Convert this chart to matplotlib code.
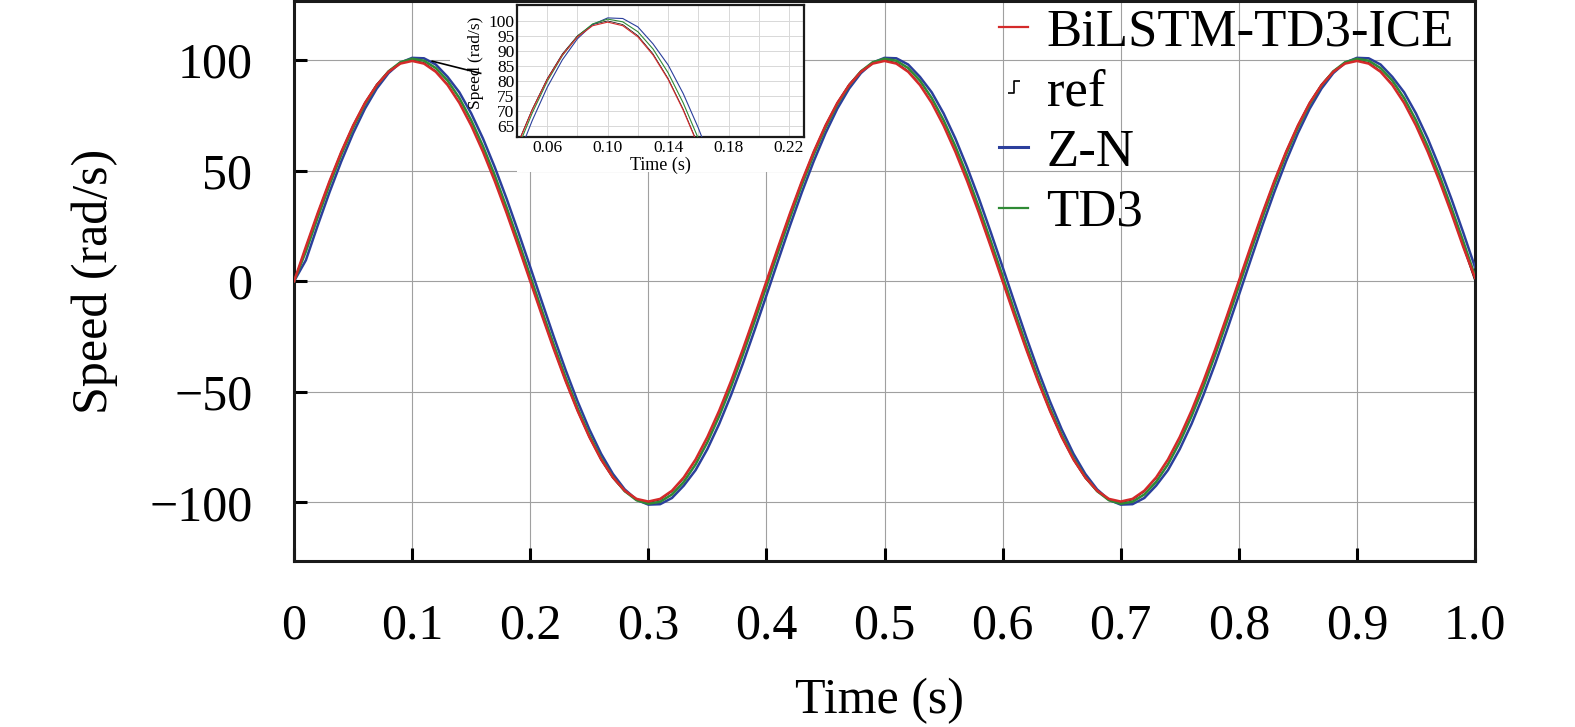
import numpy as np
import matplotlib
matplotlib.use("Agg")
import matplotlib.pyplot as plt
from matplotlib.lines import Line2D
from matplotlib.patches import Rectangle
from matplotlib.path import Path

plt.rcParams['font.family'] = ['Liberation Serif', 'DejaVu Serif']

# time base, 0.01 s steps
t = np.linspace(0, 1.0, 101)

ref = [0.0, 15.6, 30.9, 45.4, 58.8, 70.7, 80.9, 89.1, 95.1, 98.8,
       100.0, 98.8, 95.1, 89.1, 80.9, 70.7, 58.8, 45.4, 30.9, 15.6,
       0.0, -15.6, -30.9, -45.4, -58.8, -70.7, -80.9, -89.1, -95.1, -98.8,
       -100.0, -98.8, -95.1, -89.1, -80.9, -70.7, -58.8, -45.4, -30.9, -15.6,
       0.0, 15.6, 30.9, 45.4, 58.8, 70.7, 80.9, 89.1, 95.1, 98.8,
       100.0, 98.8, 95.1, 89.1, 80.9, 70.7, 58.8, 45.4, 30.9, 15.6,
       0.0, -15.6, -30.9, -45.4, -58.8, -70.7, -80.9, -89.1, -95.1, -98.8,
       -100.0, -98.8, -95.1, -89.1, -80.9, -70.7, -58.8, -45.4, -30.9, -15.6,
       0.0, 15.6, 30.9, 45.4, 58.8, 70.7, 80.9, 89.1, 95.1, 98.8,
       100.0, 98.8, 95.1, 89.1, 80.9, 70.7, 58.8, 45.4, 30.9, 15.6,
       0.0]

bilstm = [0.0, 15.6, 30.8, 45.2, 58.5, 70.4, 80.6, 88.7, 94.7, 98.4,
          99.6, 98.4, 94.7, 88.7, 80.6, 70.4, 58.5, 45.2, 30.8, 15.6,
          0.0, -15.6, -30.8, -45.2, -58.5, -70.4, -80.6, -88.7, -94.7, -98.4,
          -99.6, -98.4, -94.7, -88.7, -80.6, -70.4, -58.5, -45.2, -30.8, -15.6,
          0.0, 15.6, 30.8, 45.2, 58.5, 70.4, 80.6, 88.7, 94.7, 98.4,
          99.6, 98.4, 94.7, 88.7, 80.6, 70.4, 58.5, 45.2, 30.8, 15.6,
          0.0, -15.6, -30.8, -45.2, -58.5, -70.4, -80.6, -88.7, -94.7, -98.4,
          -99.6, -98.4, -94.7, -88.7, -80.6, -70.4, -58.5, -45.2, -30.8, -15.6,
          0.0, 15.6, 30.8, 45.2, 58.5, 70.4, 80.6, 88.7, 94.7, 98.4,
          99.6, 98.4, 94.7, 88.7, 80.6, 70.4, 58.5, 45.2, 30.8, 15.6,
          1.5]

zn = [0.0, 9.5, 25.2, 40.2, 54.2, 66.9, 78.0, 87.1, 94.1, 98.8,
      101.0, 100.8, 98.0, 92.4, 85.4, 75.9, 64.5, 51.5, 37.3, 22.1,
      6.4, -9.5, -25.2, -40.2, -54.2, -66.9, -78.0, -87.1, -94.1, -98.8,
      -101.0, -100.8, -98.0, -92.4, -85.4, -75.9, -64.5, -51.5, -37.3, -22.1,
      -6.4, 9.5, 25.2, 40.2, 54.2, 66.9, 78.0, 87.1, 94.1, 98.8,
      101.0, 100.8, 98.0, 92.4, 85.4, 75.9, 64.5, 51.5, 37.3, 22.1,
      6.4, -9.5, -25.2, -40.2, -54.2, -66.9, -78.0, -87.1, -94.1, -98.8,
      -101.0, -100.8, -98.0, -92.4, -85.4, -75.9, -64.5, -51.5, -37.3, -22.1,
      -6.4, 9.5, 25.2, 40.2, 54.2, 66.9, 78.0, 87.1, 94.1, 98.8,
      101.0, 100.8, 98.0, 92.4, 85.4, 75.9, 64.5, 51.5, 37.3, 22.1,
      6.4]

td3 = [0.0, 13.4, 28.8, 43.5, 57.2, 69.4, 80.0, 88.5, 94.9, 99.0,
       100.6, 99.7, 96.4, 90.7, 82.8, 72.8, 61.0, 47.8, 33.3, 18.1,
       2.4, -13.4, -28.8, -43.5, -57.2, -69.4, -80.0, -88.5, -94.9, -99.0,
       -100.6, -99.7, -96.4, -90.7, -82.8, -72.8, -61.0, -47.8, -33.3, -18.1,
       -2.4, 13.4, 28.8, 43.5, 57.2, 69.4, 80.0, 88.5, 94.9, 99.0,
       100.6, 99.7, 96.4, 90.7, 82.8, 72.8, 61.0, 47.8, 33.3, 18.1,
       2.4, -13.4, -28.8, -43.5, -57.2, -69.4, -80.0, -88.5, -94.9, -99.0,
       -100.6, -99.7, -96.4, -90.7, -82.8, -72.8, -61.0, -47.8, -33.3, -18.1,
       -2.4, 13.4, 28.8, 43.5, 57.2, 69.4, 80.0, 88.5, 94.9, 99.0,
       100.6, 99.7, 96.4, 90.7, 82.8, 72.8, 61.0, 47.8, 33.3, 18.1,
       2.4]

labels = ['BiLSTM-TD3-ICE', 'ref', 'Z-N', 'TD3']
c_red = '#d42a2a'
c_blue = '#2b3f9c'
c_green = '#2f8a35'

xticks = [0, 0.1, 0.2, 0.3, 0.4, 0.5, 0.6, 0.7, 0.8, 0.9, 1.0]
xticklabels = ['0', '0.1', '0.2', '0.3', '0.4', '0.5', '0.6', '0.7', '0.8', '0.9', '1.0']
yticks = [-100, -50, 0, 50, 100]
inset_xticks = [0.06, 0.10, 0.14, 0.18, 0.22]
inset_yticks = [65, 70, 75, 80, 85, 90, 95, 100]

fig = plt.figure(figsize=(15.75, 7.27), dpi=100)
ax = fig.add_axes([0.1867, 0.2283, 0.7498, 0.7697])

# ref sits under the controller curves
ax.plot(t, ref, color='black', lw=0.8, zorder=2)
ax.plot(t, zn, color=c_blue, lw=1.8, zorder=3)
ax.plot(t, td3, color=c_green, lw=1.8, zorder=3)
ax.plot(t, bilstm, color=c_red, lw=1.8, zorder=4)

ax.set_xlim(0, 1.0)
ax.set_ylim(-126.5, 126.5)
ax.set_xticks(xticks)
ax.set_xticklabels(xticklabels)
ax.set_yticks(yticks)
ax.grid(True, color='#a0a0a0', lw=0.8)
ax.set_axisbelow(True)
ax.tick_params(direction='in', length=9.5, width=2.2, labelsize=36, pad=30)
for s in ax.spines.values():
    s.set_linewidth(2.2)
    s.set_color('#1a1a1a')

ax.set_xlabel('Time (s)', fontsize=36)
ax.set_ylabel('Speed (rad/s)', fontsize=36)
ax.xaxis.set_label_coords(0.496, -0.209)
ax.yaxis.set_label_coords(-0.149, 0.5)

# white area behind the inset and its labels
ax.add_patch(Rectangle((0.132, 0.752), 0.301, 0.248, transform=ax.transAxes,
                       facecolor='white', edgecolor='none', zorder=1))
ax.add_patch(Rectangle((0.189, 0.695), 0.244, 0.305, transform=ax.transAxes,
                       facecolor='white', edgecolor='none', zorder=1))
# connector from the peak to the inset
ax.plot([0.117, 0.158], [99.5, 94.0], color='black', lw=1.2, zorder=5)

# legend
step_path = Path([(-1.0, -1.0), (0.0, -1.0), (0.0, 1.0), (1.0, 1.0)],
                 [Path.MOVETO, Path.LINETO, Path.LINETO, Path.LINETO])
handles = [Line2D([], [], color=c_red, lw=1.6),
           Line2D([], [], color='black', ls='none', marker=step_path,
                  markersize=9, markerfacecolor='none', markeredgewidth=1.2),
           Line2D([], [], color=c_blue, lw=2.2),
           Line2D([], [], color=c_green, lw=1.6)]
ax.legend(handles, labels, loc='upper right', frameon=False, fontsize=38,
          handlelength=0.55, handletextpad=0.35, labelspacing=0.23,
          borderaxespad=0.0, bbox_to_anchor=(1.0, 1.025))

# inset
axi = fig.add_axes([0.3283, 0.8116, 0.1822, 0.1816])
axi.plot(t, ref, color='black', lw=0.5, zorder=2)
axi.plot(t, zn, color=c_blue, lw=0.8, zorder=3)
axi.plot(t, td3, color=c_green, lw=0.8, zorder=3)
axi.plot(t, bilstm, color=c_red, lw=0.8, zorder=4)
axi.set_xlim(0.044, 0.23)
axi.set_ylim(61.5, 105.3)
axi.set_xticks(inset_xticks)
axi.set_xticklabels(['%.2f' % v for v in inset_xticks])
axi.set_xticks(np.arange(0.04, 0.24, 0.02), minor=True)
axi.set_yticks(inset_yticks)
axi.grid(True, which='both', color='#d8d8d8', lw=0.7)
axi.tick_params(which='both', length=0, labelsize=12.5, pad=2)
for s in axi.spines.values():
    s.set_linewidth(1.6)
    s.set_color('#1a1a1a')
axi.set_xlabel('Time (s)', fontsize=13)
axi.set_ylabel('Speed (rad/s)', fontsize=12.5)
axi.xaxis.set_label_coords(0.498, -0.15)
axi.yaxis.set_label_coords(-0.115, 0.56)

fig.savefig('out.png', dpi=100)
